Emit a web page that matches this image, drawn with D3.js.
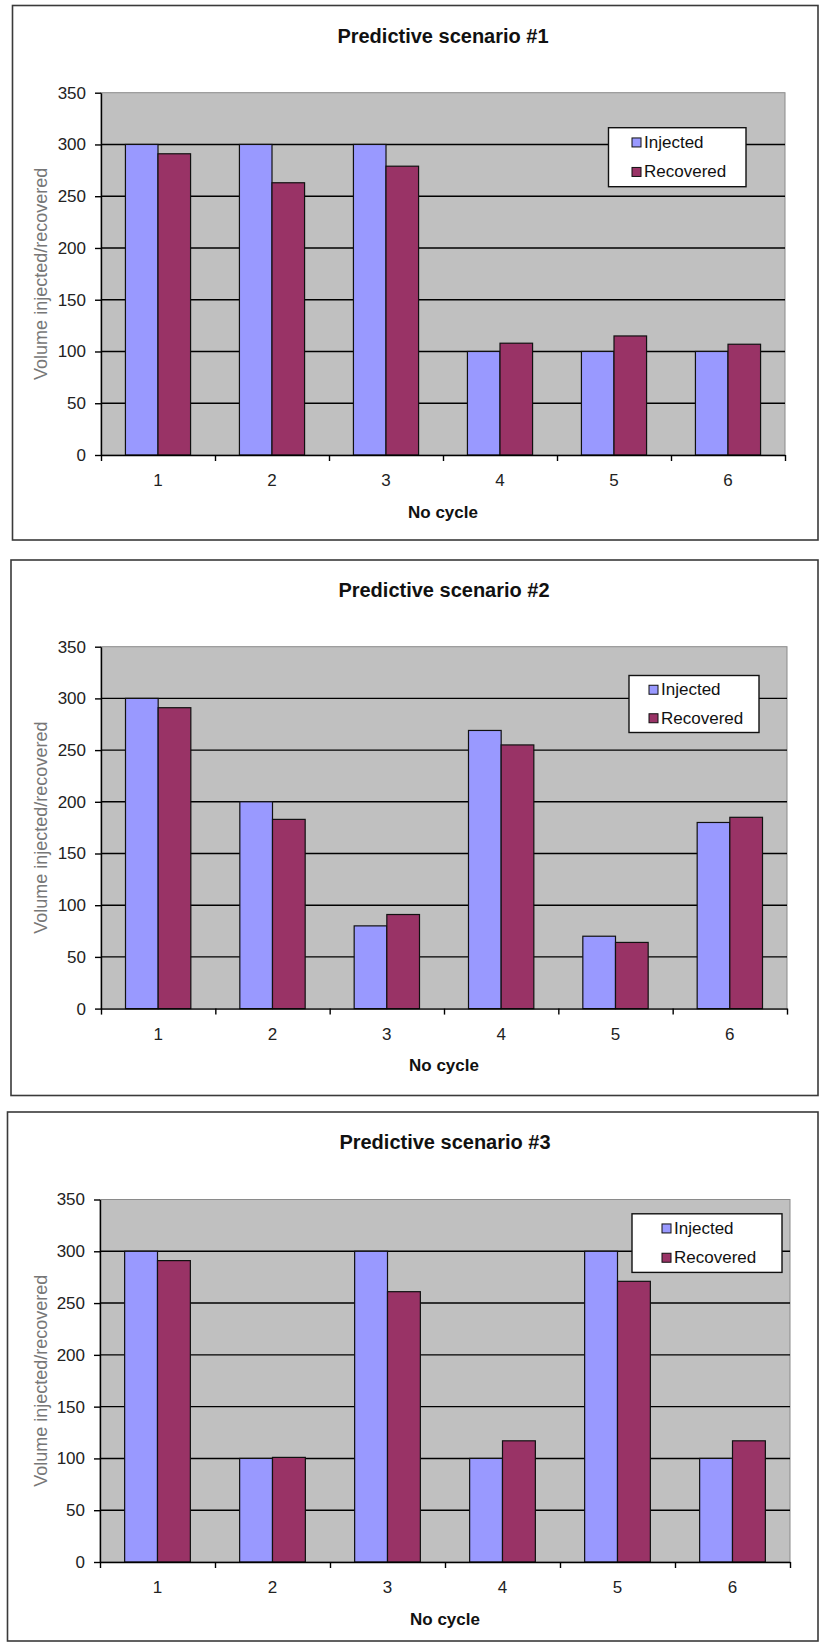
<!DOCTYPE html>
<html>
<head>
<meta charset="utf-8">
<script src="https://cdn.jsdelivr.net/npm/d3@7"></script>
<style>
  html, body { margin: 0; padding: 0; background: #fff; }
  svg { display: block; font-family: "Liberation Sans", Arial, sans-serif; }
</style>
</head>
<body>
<svg id="chart" width="819" height="1643"></svg>
<script>
// Cycle numbers on the x axis and value ticks on the y axis
const cycles = ["1", "2", "3", "4", "5", "6"];
const yTicks = [0, 50, 100, 150, 200, 250, 300, 350];
const seriesNames = ["Injected", "Recovered"];
const titles = ["Predictive scenario #1", "Predictive scenario #2", "Predictive scenario #3"];

// Volumes per cycle, one pair of arrays per scenario
const injected1 = [300, 300, 300, 100, 100, 100];
const recovered1 = [291, 263, 279, 108, 115, 107];
const injected2 = [300, 200, 80, 269, 70, 180];
const recovered2 = [291, 183, 91, 255, 64, 185];
const injected3 = [300, 100, 300, 100, 300, 100];
const recovered3 = [291, 101, 261, 117, 271, 117];

const scenarios = [
  { title: titles[0], injected: injected1, recovered: recovered1 },
  { title: titles[1], injected: injected2, recovered: recovered2 },
  { title: titles[2], injected: injected3, recovered: recovered3 }
];

// Frame, plot and legend placement for each panel
const panels = [
  { box: [12.5, 5.5, 818, 540], plot: [101, 92.7, 785, 455], legend: [608.5, 127.7, 746, 186.7], swatchX: 632 },
  { box: [11, 560, 818, 1095.5], plot: [101, 646.7, 787, 1008.6], legend: [629, 675.5, 759, 732.5], swatchX: 649 },
  { box: [7.5, 1112, 818, 1641], plot: [100, 1199.5, 790, 1562], legend: [632, 1213.8, 782, 1272.4], swatchX: 662 }
];

const colors = { Injected: "#9999FF", Recovered: "#993366" };
const svg = d3.select("#chart");

scenarios.forEach((sc, i) => {
  const p = panels[i];
  const [bx0, by0, bx1, by1] = p.box;
  const [px0, py0, px1, py1] = p.plot;
  const g = svg.append("g");

  // outer frame
  g.append("rect")
    .attr("x", bx0).attr("y", by0)
    .attr("width", bx1 - bx0).attr("height", by1 - by0)
    .attr("fill", "#fff").attr("stroke", "#3a3a3a").attr("stroke-width", 1.6);

  // title
  g.append("text")
    .attr("x", (px0 + px1) / 2).attr("y", by0 + 30)
    .attr("text-anchor", "middle").attr("dominant-baseline", "central")
    .attr("font-size", 20).attr("font-weight", "bold").attr("fill", "#111")
    .text(sc.title);

  // scales
  const x = d3.scaleBand().domain(cycles).range([px0, px1])
    .paddingInner(1.5 / 3.5).paddingOuter(0.75 / 3.5);
  const xs = d3.scaleBand().domain(seriesNames).range([0, x.bandwidth()]);
  const y = d3.scaleLinear().domain([0, 350]).range([py1, py0]);
  const xEdge = d3.scaleLinear().domain([0, cycles.length]).range([px0, px1]);

  // plot background
  g.append("rect")
    .attr("x", px0).attr("y", py0)
    .attr("width", px1 - px0).attr("height", py1 - py0)
    .attr("fill", "#C0C0C0").attr("stroke", "#8a8a8a").attr("stroke-width", 1);

  // gridlines
  g.append("g").selectAll("line")
    .data(yTicks.filter(t => t > 0 && t < 350))
    .join("line")
    .attr("x1", px0).attr("x2", px1)
    .attr("y1", d => y(d)).attr("y2", d => y(d))
    .attr("stroke", "#000").attr("stroke-width", 1.4);

  // bars
  const rows = cycles.map((c, k) => ({ cycle: c, Injected: sc.injected[k], Recovered: sc.recovered[k] }));
  g.append("g").selectAll("g")
    .data(rows)
    .join("g")
    .attr("transform", d => `translate(${x(d.cycle)},0)`)
    .selectAll("rect")
    .data(d => seriesNames.map(s => ({ s, v: d[s] })))
    .join("rect")
    .attr("x", d => xs(d.s))
    .attr("y", d => y(d.v))
    .attr("width", xs.bandwidth())
    .attr("height", d => y(0) - y(d.v))
    .attr("fill", d => colors[d.s])
    .attr("stroke", "#111").attr("stroke-width", 1.2);

  // y axis
  const yAxis = g.append("g")
    .attr("transform", `translate(${px0},0)`)
    .call(d3.axisLeft(y).tickValues(yTicks).tickSize(6).tickPadding(9).tickSizeOuter(0));
  yAxis.select(".domain").attr("stroke", "#000").attr("stroke-width", 1.4);
  yAxis.selectAll(".tick line").attr("stroke", "#000").attr("stroke-width", 1.4);
  yAxis.selectAll("text").attr("font-size", 17).attr("fill", "#222")
    .attr("font-family", "'Liberation Sans', Arial, sans-serif");

  // x axis: tick marks at category edges, labels at category centres
  const xEdgeAxis = g.append("g")
    .attr("transform", `translate(0,${py1})`)
    .call(d3.axisBottom(xEdge).tickValues(d3.range(cycles.length + 1)).tickSize(6).tickFormat("").tickSizeOuter(0));
  xEdgeAxis.select(".domain").attr("stroke", "#000").attr("stroke-width", 1.4);
  xEdgeAxis.selectAll(".tick line").attr("stroke", "#000").attr("stroke-width", 1.4);

  const xLab = g.append("g")
    .attr("transform", `translate(0,${py1})`)
    .call(d3.axisBottom(x).tickSize(0).tickPadding(19));
  xLab.select(".domain").remove();
  xLab.selectAll("text").attr("font-size", 17).attr("fill", "#222")
    .attr("font-family", "'Liberation Sans', Arial, sans-serif");

  // axis titles
  g.append("text")
    .attr("x", (px0 + px1) / 2).attr("y", py1 + 57)
    .attr("text-anchor", "middle").attr("dominant-baseline", "central")
    .attr("font-size", 17).attr("font-weight", "bold").attr("fill", "#111")
    .text("No cycle");

  g.append("text")
    .attr("transform", `translate(41,${(py0 + py1) / 2}) rotate(-90)`)
    .attr("text-anchor", "middle").attr("dominant-baseline", "central")
    .attr("font-size", 18).attr("fill", "#777")
    .text("Volume injected/recovered");

  // legend
  const [lx0, ly0, lx1, ly1] = p.legend;
  const lg = g.append("g");
  lg.append("rect")
    .attr("x", lx0).attr("y", ly0)
    .attr("width", lx1 - lx0).attr("height", ly1 - ly0)
    .attr("fill", "#fff").attr("stroke", "#111").attr("stroke-width", 1.4);
  const rowH = (ly1 - ly0) / 2;
  const item = lg.selectAll("g.item")
    .data(seriesNames)
    .join("g").attr("class", "item")
    .attr("transform", (d, k) => `translate(${p.swatchX},${ly0 + rowH * (k + 0.5)})`);
  item.append("rect")
    .attr("x", 0).attr("y", -4.5).attr("width", 9).attr("height", 9)
    .attr("fill", d => colors[d]).attr("stroke", "#111").attr("stroke-width", 1);
  item.append("text")
    .attr("x", 12).attr("y", 0)
    .attr("dominant-baseline", "central")
    .attr("font-size", 17).attr("fill", "#111")
    .text(d => d);
});
</script>
</body>
</html>
